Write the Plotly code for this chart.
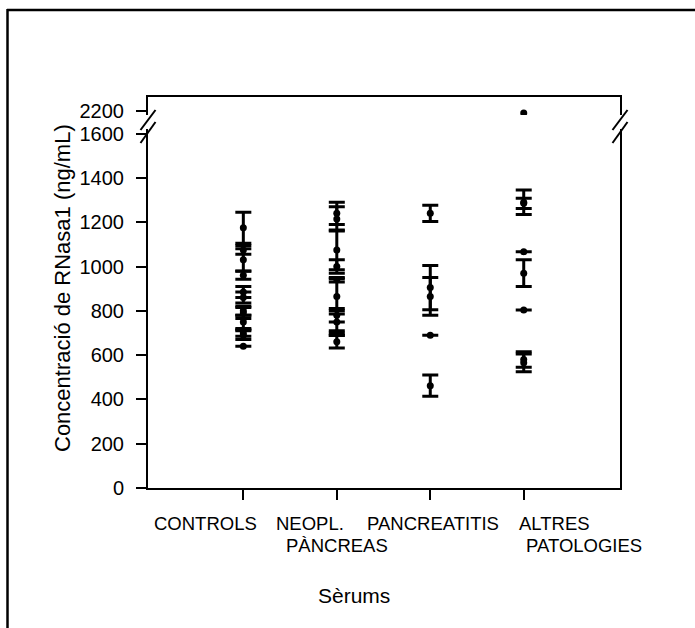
import plotly.graph_objects as go

# ---- data ----
categories = ["CONTROLS", "NEOPL. PÀNCREAS", "PANCREATITIS", "ALTRES PATOLOGIES"]
cat_pos = [1, 2, 3, 4]

controls_vals = [1175, 1075, 1030, 960, 885, 860, 800, 790, 750, 700, 690, 640]
controls_err = [70, 20, 50, 18, 25, 25, 20, 25, 30, 15, 20, 0]

neopl_vals = [1240, 1215, 1075, 1000, 940, 865, 780, 750, 700, 660]
neopl_err = [50, 55, 90, 30, 10, 80, 30, 50, 10, 28]

pancr_vals = [1240, 905, 865, 690, 462]
pancr_err = [37, 100, 85, 0, 48]

altres_vals = [1290, 1285, 1067, 970, 804, 580, 565]
altres_err = [55, 23, 0, 60, 0, 35, 40]

high_x = [4]
high_vals = [2190]

y_ticks_low = [0, 200, 400, 600, 800, 1000, 1200, 1400, 1600]
y_ticks_high = [2200]

groups = [
    (cat_pos[0], controls_vals, controls_err),
    (cat_pos[1], neopl_vals, neopl_err),
    (cat_pos[2], pancr_vals, pancr_err),
    (cat_pos[3], altres_vals, altres_err),
]

FONT = "Liberation Sans, Arial, sans-serif"
W, H = 695, 628
ML, MR, MT, MB = 148, 75, 97, 140
PW = W - ML - MR
PH = H - MT - MB

def py(ypix):
    return (H - MB - ypix) / PH

def px(xpix):
    return (xpix - ML) / PW

low_top_pix = 129
high_bot_pix = 115
scale = 0.2215  # px per unit
low_range = [0, (H - MB - low_top_pix) / scale]
high_range = [2200 - (high_bot_pix - 110.7) / scale, 2200 + (110.7 - MT) / scale]

fig = go.Figure()
for xpos, vals, errs in groups:
    fig.add_trace(go.Scatter(
        x=[xpos] * len(vals), y=vals, mode="markers",
        marker=dict(color="black", size=7),
        error_y=dict(type="data", array=errs, visible=True, color="black",
                     thickness=3, width=8),
        xaxis="x", yaxis="y", showlegend=False, hoverinfo="y",
    ))
fig.add_trace(go.Scatter(
    x=high_x, y=high_vals, mode="markers",
    marker=dict(color="black", size=7),
    xaxis="x2", yaxis="y2", showlegend=False, hoverinfo="y",
))

axis_common = dict(showgrid=False, zeroline=False, showline=True,
                   linecolor="black", linewidth=2, ticks="outside",
                   ticklen=10, tickwidth=1.5, tickcolor="black",
                   ticklabelstandoff=8,
                   tickfont=dict(family=FONT, size=20, color="black"))

fig.update_layout(
    width=W, height=H,
    margin=dict(l=ML, r=MR, t=MT, b=MB, pad=0),
    paper_bgcolor="white", plot_bgcolor="white",
    xaxis=dict(range=[-0.02, 5.03], domain=[0, 1], anchor="y",
               tickvals=cat_pos, ticktext=[""] * 4,
               showgrid=False, zeroline=False, showline=True,
               linecolor="black", linewidth=2, ticks="outside",
               ticklen=10, tickwidth=2, tickcolor="black"),
    xaxis2=dict(range=[-0.02, 5.03], domain=[0, 1], anchor="y2", side="top",
                matches="x", showgrid=False, zeroline=False, showline=True,
                linecolor="black", linewidth=2, ticks="", showticklabels=False),
    yaxis=dict(range=low_range, domain=[0, py(low_top_pix)], anchor="x",
               tickvals=y_ticks_low, mirror=True, **axis_common),
    yaxis2=dict(range=high_range, domain=[py(high_bot_pix), 1], anchor="x2",
                tickvals=y_ticks_high, mirror=True, **axis_common),
)

shapes = []
# break slashes (left and right)
for x0 in (148.5, 620.5):
    for (ya, yb) in ((130, 110), (143, 122)):
        shapes.append(dict(type="line", xref="paper", yref="paper",
                           x0=px(x0 - 8), y0=py(ya), x1=px(x0 + 7), y1=py(yb),
                           line=dict(color="black", width=2)))
# outer frame
shapes.append(dict(type="line", xref="paper", yref="paper",
                   x0=px(7), y0=py(10), x1=px(700), y1=py(10),
                   line=dict(color="black", width=2.5)))
shapes.append(dict(type="line", xref="paper", yref="paper",
                   x0=px(7.5), y0=py(9), x1=px(7.5), y1=py(640),
                   line=dict(color="black", width=2.5)))
fig.update_layout(shapes=shapes)

lab_font = dict(family=FONT, size=18.5, color="black")
labels = [
    ("CONTROLS", 152, 523),
    ("NEOPL.", 274, 523),
    ("PÀNCREAS", 284, 545),
    ("PANCREATITIS", 365, 523),
    ("ALTRES", 517, 523),
    ("PATOLOGIES", 524, 545),
]
ann = []
for t, xl, yc in labels:
    ann.append(dict(text=t, xref="paper", yref="paper", x=px(xl), y=py(yc),
                    xanchor="left", yanchor="middle", showarrow=False,
                    font=lab_font))
ann.append(dict(text="Sèrums", xref="paper", yref="paper", x=px(354), y=py(595),
                xanchor="center", yanchor="middle", showarrow=False,
                font=dict(family=FONT, size=21, color="black")))
ann.append(dict(text="Concentració de RNasa1 (ng/mL)", xref="paper", yref="paper",
                x=px(62), y=py(288), xanchor="center", yanchor="middle",
                textangle=-90, showarrow=False,
                font=dict(family=FONT, size=22, color="black")))
fig.update_layout(annotations=ann)

fig.write_html("out.html")
